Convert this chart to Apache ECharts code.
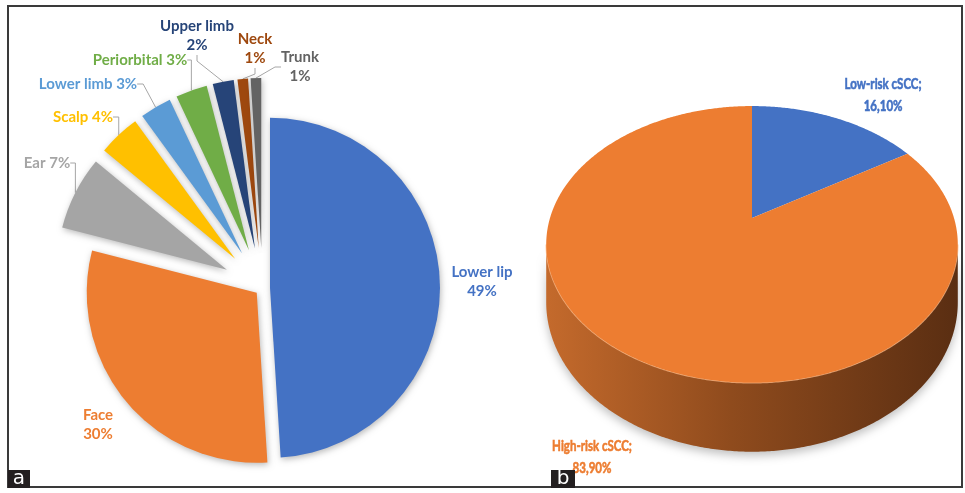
<!DOCTYPE html>
<html><head><meta charset="utf-8">
<script src="https://cdn.jsdelivr.net/npm/echarts@6/dist/echarts.min.js"></script>
<style>html,body{margin:0;padding:0;background:#fff}#main{width:965px;height:493px}</style>
</head><body><div id="main"></div>
<script>
// ---- data ----
const siteNames  = ['Lower lip','Face','Ear','Scalp','Lower limb','Periorbital','Upper limb','Neck','Trunk'];
const siteValues = [49, 30, 7, 4, 3, 3, 2, 1, 1];
const siteColors = ['#4472C4','#ED7D31','#A5A5A5','#FFC000','#5B9BD5','#70AD47','#264478','#9E480E','#636363'];
const majorSites = ['Lower lip','Face'];
const twoLineLabels = ['Lower lip','Face','Upper limb','Neck','Trunk'];

const riskNames  = ['Low-risk cSCC', 'High-risk cSCC'];
const riskValues = [16.1, 83.9];
const riskText   = ['16,10%', '83,90%'];
const riskColors = ['#4472C4', '#ED7D31'];

// ---- label placement (text centres, px) ----
const siteLabelPos = {
  'Lower lip': [482, 282], 'Face': [98, 425], 'Ear': [47, 163], 'Scalp': [83, 117],
  'Lower limb': [88, 84], 'Periorbital': [140, 60], 'Upper limb': [197, 36],
  'Neck': [255, 49], 'Trunk': [300, 67]
};
const riskLabelPos = [[0.649, 0.609], [-0.792, -1.183]]; // in 3D-pie data units

const FONT = 'Lato';
const PIE_R = 170, MAJOR_OFF = 7.5, MINOR_OFF = 40;
const chart = echarts.init(document.getElementById('main'), null, {renderer: 'canvas'});

const pieGeom = {type: 'pie', center: [262.5, 288], radius: PIE_R, startAngle: 90, clockwise: true,
                 animation: false, avoidLabelOverlap: false, emphasis: {disabled: true}};

function sliceItem(i, major) {
  const shown = majorSites.includes(siteNames[i]) === major;
  return {
    name: siteNames[i], value: siteValues[i], selected: shown,
    itemStyle: shown ? {color: siteColors[i], shadowBlur: 6, shadowColor: 'rgba(0,0,0,0.28)', shadowOffsetX: 1, shadowOffsetY: 2}
                     : {color: 'rgba(0,0,0,0)', shadowBlur: 0}
  };
}
function labelItem(i) {
  const name = siteNames[i];
  const two = twoLineLabels.includes(name);
  return {
    name: name, value: siteValues[i],
    itemStyle: {color: 'rgba(0,0,0,0)'},
    label: {color: siteColors[i], formatter: two ? '{b}\n{c}%' : '{b} {c}%'},
    labelLine: {show: !majorSites.includes(name)}
  };
}
function labelLayout(p) {
  const pos = siteLabelPos[siteNames[p.dataIndex]];
  return {x: pos[0], y: pos[1], align: 'center', verticalAlign: 'middle'};
}

// 3D pie projection constants
const PERSP = -0.191, BN = 0.66, DEPTH = 0.276;
const riskTotal = riskValues.reduce((a, b) => a + b, 0);

function render3D(params, api) {
  const i = params.dataIndex;
  let start = 0;
  for (let j = 0; j < i; j++) start += riskValues[j];
  const a0 = start / riskTotal * Math.PI * 2;
  const a1 = (start + api.value(1)) / riskTotal * Math.PI * 2;
  const proj = (th, k, h) => {
    const X = k * Math.sin(th), Z = -k * Math.cos(th);
    const w = 1 + PERSP * Z;
    return api.coord([X / w, -(Z * BN + h) / w]);
  };
  const step = Math.PI / 360;
  const children = [];
  const sil0 = Math.acos(PERSP), sil1 = Math.PI * 2 - Math.acos(PERSP);
  const s0 = Math.max(a0, sil0), s1 = Math.min(a1, sil1);
  if (s1 > s0) {
    const topArc = [], botArc = [];
    for (let t = s0; t < s1; t += step) { topArc.push(proj(t, 1, 0)); botArc.push(proj(t, 1, DEPTH)); }
    topArc.push(proj(s1, 1, 0)); botArc.push(proj(s1, 1, DEPTH));
    children.push({
      type: 'polygon', shape: {points: topArc.concat(botArc.reverse())},
      style: {fill: new echarts.graphic.LinearGradient(0, 0, 1, 0, [
        {offset: 0, color: '#C46A2C'}, {offset: 0.45, color: '#8F4B1D'}, {offset: 1, color: '#5A2E12'}]),
        shadowBlur: 10, shadowColor: 'rgba(0,0,0,0.25)', shadowOffsetY: 4}
    });
    children.push({type: 'polyline', shape: {points: topArc}, style: {stroke: 'rgba(255,190,140,0.7)', lineWidth: 1.5, fill: null}});
  }
  const top = [proj(0, 0, 0)];
  for (let t = a0; t < a1; t += step) top.push(proj(t, 1, 0));
  top.push(proj(a1, 1, 0));
  children.push({type: 'polygon', shape: {points: top}, style: {fill: riskColors[i]}});
  const lp = api.coord(riskLabelPos[i]);
  children.push({
    type: 'text', x: lp[0], y: lp[1], scaleX: 0.72,
    style: {text: riskNames[i] + ';\n' + riskText[i], fill: riskColors[i], stroke: riskColors[i], lineWidth: 0.6,
            font: 'bold 16px ' + FONT, align: 'center', verticalAlign: 'middle', lineHeight: 22}
  });
  return {type: 'group', children: children};
}

chart.setOption({
  animation: false,
  grid: {left: 550, top: 56.4, width: 404, height: 424.2, show: false},
  xAxis: {type: 'value', min: -1, max: 1, show: false},
  yAxis: {type: 'value', min: -1.3, max: 0.8, show: false},
  series: [
    Object.assign({}, pieGeom, {
      name: 'labels', z: 1, selectedMode: false, radius: PIE_R + MINOR_OFF,
      label: {show: true, position: 'outside', fontFamily: FONT, fontWeight: 'bold', fontSize: 15, lineHeight: 19},
      labelLine: {length: 8, length2: 6, lineStyle: {color: '#A6A6A6', width: 1}},
      labelLayout: labelLayout,
      data: siteValues.map((v, i) => labelItem(i))
    }),
    Object.assign({}, pieGeom, {
      name: 'major', z: 3, selectedMode: 'multiple', selectedOffset: MAJOR_OFF,
      label: {show: false}, labelLine: {show: false}, select: {itemStyle: {borderWidth: 0}},
      data: siteValues.map((v, i) => sliceItem(i, true))
    }),
    Object.assign({}, pieGeom, {
      name: 'minor', z: 3, selectedMode: 'multiple', selectedOffset: MINOR_OFF,
      label: {show: false}, labelLine: {show: false}, select: {itemStyle: {borderWidth: 0}},
      data: siteValues.map((v, i) => sliceItem(i, false))
    }),
    {type: 'custom', name: 'risk', renderItem: render3D, clip: false, silent: true,
     data: riskValues.map((v, i) => [i, v])}
  ],
  graphic: [
    {type: 'rect', z: 100, shape: {x: 8, y: 6, width: 954, height: 481}, style: {fill: 'none', stroke: '#3a3a3a', lineWidth: 2}},
    {type: 'rect', z: 101, shape: {x: 8, y: 470, width: 22, height: 18}, style: {fill: '#231F20'}},
    {type: 'text', z: 102, x: 19, y: 479, style: {text: 'a', fill: '#fff', font: '20px "DejaVu Sans"', align: 'center', verticalAlign: 'middle'}},
    {type: 'rect', z: 101, shape: {x: 551, y: 470, width: 24, height: 18}, style: {fill: '#231F20'}},
    {type: 'text', z: 102, x: 563, y: 479, style: {text: 'b', fill: '#fff', font: '20px "DejaVu Sans"', align: 'center', verticalAlign: 'middle'}}
  ]
});
</script></body></html>
